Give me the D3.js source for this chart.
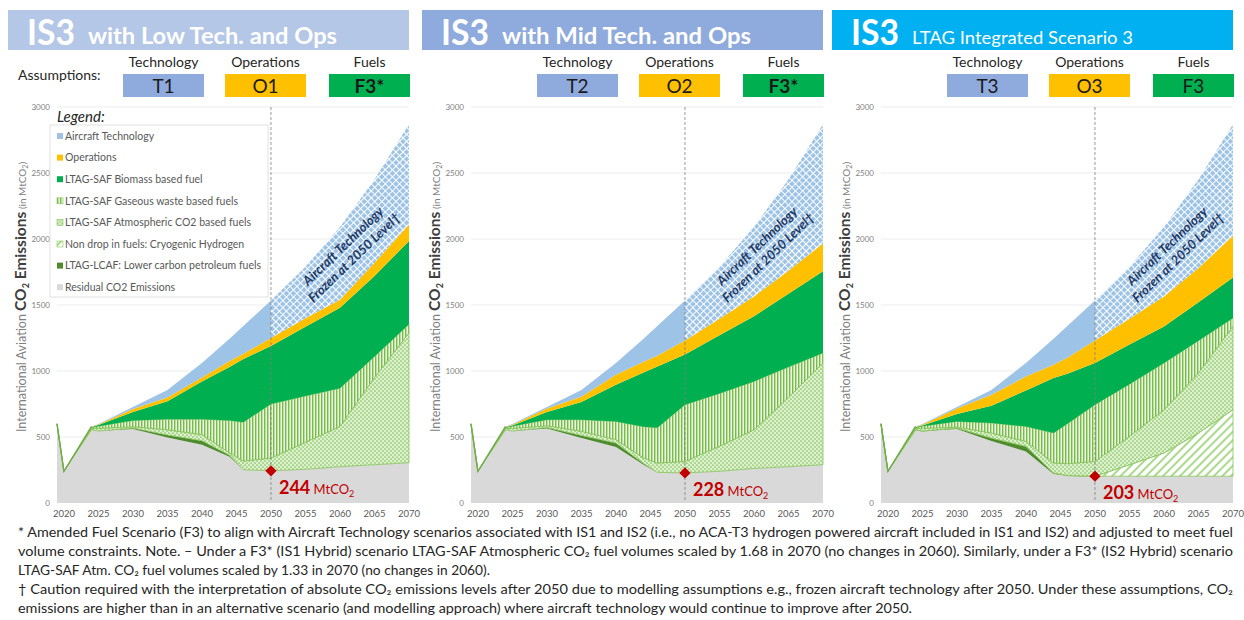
<!DOCTYPE html>
<html>
<head>
<meta charset="utf-8">
<script src="https://cdn.jsdelivr.net/npm/d3@7"></script>
<style>
  body { margin: 0; background: #fff; }
  text { font-family: Lato, "Open Sans", sans-serif; }
</style>
</head>
<body>
<svg width="1244" height="620"></svg>
<script>
// years on the x axis (data points)
var years = [2019, 2020, 2024, 2025, 2030, 2035, 2040, 2044, 2046, 2050, 2055, 2060, 2065, 2070];

// layer values, one row per panel: [Low Tech, Mid Tech, IS3]
var residual = [
  [600, 240, 555, 545, 560, 497, 442, 350, 252, 244, 255, 275, 290, 305],
  [600, 240, 555, 545, 565, 492, 424, 290, 232, 228, 240, 262, 275, 290],
  [600, 240, 555, 545, 560, 470, 391, 220, 208, 203, 203, 203, 203, 203]
];
var lcaf = [
  [0, 0, 0, 0, 8, 18, 30, 12, 0, 0, 0, 0, 0, 0],
  [0, 0, 0, 0, 7, 20, 30, 10, 0, 0, 0, 0, 0, 0],
  [0, 0, 0, 0, 8, 22, 38, 8, 0, 0, 0, 0, 0, 0]
];
var hydrogen = [
  [0, 0, 0, 0, 0, 0, 0, 0, 0, 0, 0, 0, 0, 0],
  [0, 0, 0, 0, 0, 0, 0, 0, 0, 0, 0, 0, 0, 0],
  [0, 0, 0, 0, 0, 0, 0, 0, 0, 0, 87, 176, 327, 504]
];
var atmCO2 = [
  [0, 0, 8, 20, 10, 40, 46, 18, 66, 97, 205, 305, 660, 985],
  [0, 0, 8, 20, 13, 31, 26, 41, 71, 87, 190, 293, 525, 770],
  [0, 0, 8, 20, 7, 38, 38, 75, 90, 112, 215, 328, 455, 633]
];
var gaseous = [
  [0, 0, 7, 17, 47, 80, 117, 245, 294, 409, 350, 290, 160, 65],
  [0, 0, 7, 17, 46, 88, 138, 237, 267, 430, 400, 366, 230, 76],
  [0, 0, 7, 17, 43, 76, 113, 227, 302, 430, 395, 353, 245, 61]
];
var biomass = [
  [0, 0, 4, 8, 65, 135, 285, 405, 478, 440, 525, 610, 610, 630],
  [0, 0, 4, 6, 59, 134, 278, 410, 464, 380, 440, 494, 555, 619],
  [0, 0, 4, 6, 57, 131, 273, 417, 380, 315, 300, 278, 290, 308]
];
var operations = [
  [0, 0, 3, 5, 22, 30, 30, 45, 40, 60, 65, 60, 100, 125],
  [0, 0, 3, 5, 25, 40, 76, 82, 81, 107, 125, 150, 175, 210],
  [0, 0, 3, 5, 40, 83, 106, 101, 120, 172, 195, 227, 260, 316]
];
var technology = [
  [0, 0, 3, 3, 16, 56, 110, 170, 210, 285, 390, 550, 630, 760],
  [0, 0, 3, 5, 13, 51, 88, 175, 225, 303, 395, 525, 690, 905],
  [0, 0, 3, 5, 13, 36, 101, 197, 240, 303, 395, 525, 670, 845]
];

var panelSubtitles = ["with Low Tech. and Ops", "with Mid Tech. and Ops", "LTAG Integrated Scenario 3"];
var techLabels = ["T1", "T2", "T3"];
var opsLabels = ["O1", "O2", "O3"];
var fuelLabels = ["F3*", "F3*", "F3"];
var value2050 = [244, 228, 203];
var xTickYears = [2020, 2025, 2030, 2035, 2040, 2045, 2050, 2055, 2060, 2065, 2070];
var yTickValues = [0, 500, 1000, 1500, 2000, 2500, 3000];

var legendLabels = ["Aircraft Technology", "Operations", "LTAG-SAF Biomass based fuel",
  "LTAG-SAF Gaseous waste based fuels", "LTAG-SAF Atmospheric CO2 based fuels",
  "Non drop in fuels: Cryogenic Hydrogen", "LTAG-LCAF: Lower carbon petroleum fuels",
  "Residual CO2 Emissions"];

var footnotes = [
  "* Amended Fuel Scenario (F3) to align with Aircraft Technology scenarios associated with IS1 and IS2 (i.e., no ACA-T3 hydrogen powered aircraft included in IS1 and IS2) and adjusted to meet fuel",
  "volume constraints. Note. \u2013 Under a F3* (IS1 Hybrid) scenario LTAG-SAF Atmospheric CO\u2082 fuel volumes scaled by 1.68 in 2070 (no changes in 2060). Similarly, under a F3* (IS2 Hybrid) scenario",
  "LTAG-SAF Atm. CO\u2082 fuel volumes scaled by 1.33 in 2070 (no changes in 2060).",
  "\u2020 Caution required with the interpretation of absolute CO\u2082 emissions levels after 2050 due to modelling assumptions e.g., frozen aircraft technology after 2050. Under these assumptions, CO\u2082",
  "emissions are higher than in an alternative scenario (and modelling approach) where aircraft technology would continue to improve after 2050."
];

var keys = ["residual", "lcaf", "hydrogen", "atm", "gaseous", "biomass", "operations", "technology"];
var seriesByKey = { residual: residual, lcaf: lcaf, hydrogen: hydrogen, atm: atmCO2,
  gaseous: gaseous, biomass: biomass, operations: operations, technology: technology };

var svg = d3.select("svg");
var defs = svg.append("defs");

// patterns
var pTech = defs.append("pattern").attr("id", "pTech").attr("patternUnits", "userSpaceOnUse")
  .attr("width", 5).attr("height", 5).attr("patternTransform", "rotate(45)");
pTech.append("rect").attr("width", 5).attr("height", 5).attr("fill", "#9DC3E6");
pTech.append("path").attr("d", "M0,2.5H5M2.5,0V5").attr("stroke", "#fff").attr("stroke-width", 1);

var pGas = defs.append("pattern").attr("id", "pGas").attr("patternUnits", "userSpaceOnUse")
  .attr("width", 3).attr("height", 6);
pGas.append("rect").attr("width", 3).attr("height", 6).attr("fill", "#EAF5E0");
pGas.append("rect").attr("width", 1.4).attr("height", 6).attr("fill", "#77BB48");

var pAtm = defs.append("pattern").attr("id", "pAtm").attr("patternUnits", "userSpaceOnUse")
  .attr("width", 4).attr("height", 4);
pAtm.append("rect").attr("width", 4).attr("height", 4).attr("fill", "#DDF0CF");
pAtm.append("circle").attr("cx", 1).attr("cy", 1).attr("r", 0.85).attr("fill", "#80C255");
pAtm.append("circle").attr("cx", 3).attr("cy", 3).attr("r", 0.85).attr("fill", "#80C255");

var pH2 = defs.append("pattern").attr("id", "pH2").attr("patternUnits", "userSpaceOnUse")
  .attr("width", 6).attr("height", 6).attr("patternTransform", "rotate(45)");
pH2.append("rect").attr("width", 6).attr("height", 6).attr("fill", "#fff");
pH2.append("rect").attr("width", 2).attr("height", 6).attr("fill", "#A9DA8A");

var fills = { residual: "#D9D9D9", lcaf: "#4E8A2E", hydrogen: "url(#pH2)", atm: "url(#pAtm)",
  gaseous: "url(#pGas)", biomass: "#00B050", operations: "#FFC000", technology: "#9DC3E6" };
var legendFills = ["#9DC3E6", "#FFC000", "#00B050", "url(#pGas)", "url(#pAtm)", "url(#pH2)", "#4E8A2E", "#D9D9D9"];
var bannerColors = ["#B4C7E7", "#8FAADC", "#00B0F0"];

var plotLeft = [57, 471, 881];
var plotWidth = 352;
var plotTop = 107, plotBottom = 503;

plotLeft.forEach(function(x0, p) {
  var g = svg.append("g");
  var x = d3.scaleLinear().domain([2019, 2070]).range([x0, x0 + plotWidth]);
  var y = d3.scaleLinear().domain([0, 3000]).range([plotBottom, plotTop]);

  // banner
  g.append("rect").attr("x", x0 - 49).attr("y", 10).attr("width", plotWidth + 49).attr("height", 40)
    .attr("fill", bannerColors[p]);
  g.append("text").attr("x", x0 - 30).attr("y", 45).attr("fill", "#fff")
    .attr("font-size", 36).attr("font-weight", "bold")
    .attr("textLength", 48).attr("lengthAdjust", "spacingAndGlyphs").text("IS3");
  g.append("text").attr("x", x0 + 31).attr("y", 44).attr("fill", "#fff")
    .attr("font-size", p === 2 ? 18 : 22).attr("font-weight", p === 2 ? "normal" : "bold")
    .attr("textLength", p === 2 ? 221 : 249).attr("lengthAdjust", "spacingAndGlyphs")
    .text(panelSubtitles[p]);

  // assumptions row
  if (p === 0) {
    g.append("text").attr("x", 18).attr("y", 80).attr("font-size", 14).attr("fill", "#262626").text("Assumptions:");
  }
  var boxes = [
    { head: "Technology", label: techLabels[p], color: "#8FAADC", dx: 66, bold: false },
    { head: "Operations", label: opsLabels[p], color: "#FFC000", dx: 168, bold: false },
    { head: "Fuels", label: fuelLabels[p], color: "#00B050", dx: 272, bold: fuelLabels[p].indexOf("*") >= 0 }
  ];
  boxes.forEach(function(b) {
    var bx = x0 + b.dx;
    g.append("rect").attr("x", bx).attr("y", 74).attr("width", 81).attr("height", 23).attr("fill", b.color);
    g.append("text").attr("x", bx + 40.5).attr("y", 67).attr("text-anchor", "middle")
      .attr("font-size", 14).attr("fill", "#262626").text(b.head);
    g.append("text").attr("x", bx + 40.5).attr("y", 93).attr("text-anchor", "middle")
      .attr("font-size", 19).attr("font-weight", b.bold ? "bold" : "normal").attr("fill", "#1a1a1a").text(b.label);
  });

  // gridlines
  g.append("g").selectAll("line").data(yTickValues.filter(function(v) { return v > 0; })).enter()
    .append("line")
    .attr("x1", x0).attr("x2", x0 + plotWidth)
    .attr("y1", function(d) { return y(d); }).attr("y2", function(d) { return y(d); })
    .attr("stroke", "#EDEDED").attr("stroke-width", 1);

  // stacked areas
  var rows = years.map(function(yr, i) {
    var r = { year: yr };
    keys.forEach(function(k) { r[k] = seriesByKey[k][p][i]; });
    return r;
  });
  var stacked = d3.stack().keys(keys)(rows);
  var area = d3.area()
    .x(function(d) { return x(d.data.year); })
    .y0(function(d) { return y(d[0]); })
    .y1(function(d) { return y(d[1]); });

  stacked.forEach(function(s) {
    if (d3.max(s, function(d) { return d[1] - d[0]; }) === 0) return;
    if (s.key === "technology") {
      g.append("path").attr("d", area(s.filter(function(d) { return d.data.year <= 2050; })))
        .attr("fill", "#9DC3E6");
      g.append("path").attr("d", area(s.filter(function(d) { return d.data.year >= 2050; })))
        .attr("fill", "url(#pTech)");
      return;
    }
    var patterned = s.key === "atm" || s.key === "gaseous" || s.key === "hydrogen";
    g.append("path").attr("d", area(s)).attr("fill", fills[s.key])
      .attr("stroke", patterned ? "#86C35A" : "none").attr("stroke-width", patterned ? 0.8 : 0);
  });

  // green outline of the total before 2025
  var top = stacked[stacked.length - 1];
  g.append("path")
    .attr("d", d3.line().x(function(d) { return x(d.data.year); }).y(function(d) { return y(d[1]); })
      (top.filter(function(d) { return d.data.year <= 2024; })))
    .attr("fill", "none").attr("stroke", "#70AD47").attr("stroke-width", 1.4);

  // axes labels
  g.append("g").selectAll("text").data(xTickYears).enter().append("text")
    .attr("x", function(d) { return x(d); }).attr("y", 517).attr("text-anchor", "middle")
    .attr("font-size", 9.5).attr("fill", "#595959").text(function(d) { return d; });
  g.append("g").selectAll("text").data(yTickValues).enter().append("text")
    .attr("x", x0 - 7).attr("y", function(d) { return y(d) + 3; }).attr("text-anchor", "end")
    .attr("font-size", 8).attr("fill", "#7F7F7F").text(function(d) { return d; });

  var yt = g.append("text").attr("transform", "translate(" + (x0 - 31) + ",297) rotate(-90)")
    .attr("text-anchor", "middle");
  yt.append("tspan").attr("font-size", 12.5).attr("fill", "#7F7F7F").text("International Aviation ");
  yt.append("tspan").attr("font-size", 15.5).attr("font-weight", "bold").attr("fill", "#404040").text("CO");
  yt.append("tspan").attr("font-size", 9).attr("font-weight", "bold").attr("fill", "#404040").attr("dy", 3).text("2");
  yt.append("tspan").attr("font-size", 15.5).attr("font-weight", "bold").attr("fill", "#404040").attr("dy", -3).text(" Emissions");
  yt.append("tspan").attr("font-size", 10).attr("fill", "#7F7F7F").text(" (in MtCO");
  yt.append("tspan").attr("font-size", 7).attr("fill", "#7F7F7F").attr("dy", 2).text("2");
  yt.append("tspan").attr("font-size", 10).attr("fill", "#7F7F7F").attr("dy", -2).text(")");

  // 2050 dashed line
  g.append("line").attr("x1", x(2050)).attr("x2", x(2050)).attr("y1", y(3000)).attr("y2", y(0) - 3)
    .attr("stroke", "#808080").attr("stroke-width", 0.8).attr("stroke-dasharray", "3,2");

  // frozen technology note
  var note = g.append("g")
    .attr("transform", "translate(" + (x(2050) + 78) + "," + y(1900) + ") rotate(-44)");
  note.append("text").attr("y", -4).attr("text-anchor", "middle").attr("font-size", 13)
    .attr("font-weight", "bold").attr("font-style", "italic").attr("fill", "#1F3864").text("Aircraft Technology");
  note.append("text").attr("y", 12).attr("text-anchor", "middle").attr("font-size", 13)
    .attr("font-weight", "bold").attr("font-style", "italic").attr("fill", "#1F3864").text("Frozen at 2050 Level\u2020");

  // 2050 residual marker
  g.append("path").attr("d", d3.symbol(d3.symbolSquare).size(64)())
    .attr("transform", "translate(" + x(2050) + "," + y(value2050[p]) + ") rotate(45)")
    .attr("fill", "#C00000");
  var lab = g.append("text").attr("x", x(2050) + 8).attr("y", y(value2050[p]) + 23).attr("fill", "#C00000");
  lab.append("tspan").attr("font-size", 18).attr("font-weight", "bold").text(value2050[p]);
  lab.append("tspan").attr("font-size", 13).text(" MtCO");
  lab.append("tspan").attr("font-size", 9).attr("dy", 3).text("2");

  // legend (first panel only)
  if (p === 0) {
    g.append("rect").attr("x", 50).attr("y", 125).attr("width", 218).attr("height", 172)
      .attr("fill", "#fff").attr("stroke", "#DADADA").attr("stroke-width", 0.8);
    g.append("text").attr("x", 57).attr("y", 122).attr("font-size", 15).attr("font-style", "italic")
      .attr("fill", "#262626").text("Legend:");
    var li = g.append("g").selectAll("g").data(legendLabels).enter().append("g")
      .attr("transform", function(d, i) { return "translate(57," + (136 + i * 21.6) + ")"; });
    li.append("rect").attr("x", 0).attr("y", -3).attr("width", 6).attr("height", 6)
      .attr("fill", function(d, i) { return legendFills[i]; })
      .attr("stroke", function(d, i) { return (i >= 3 && i <= 5) ? "#86C35A" : "none"; })
      .attr("stroke-width", 0.6);
    li.append("text").attr("x", 8).attr("y", 3.8).attr("font-size", 10.5).attr("fill", "#595959")
      .text(function(d) { return d; });
  }
});

// footnotes
var footWidths = [1215, 1215, 472, 1215, 894];
svg.append("g").selectAll("text").data(footnotes).enter().append("text")
  .attr("x", 18).attr("y", function(d, i) { return 537 + i * 19; })
  .attr("font-size", 13).attr("fill", "#262626")
  .attr("textLength", function(d, i) { return footWidths[i]; })
  .attr("lengthAdjust", "spacingAndGlyphs")
  .text(function(d) { return d; });
</script>
</body>
</html>
